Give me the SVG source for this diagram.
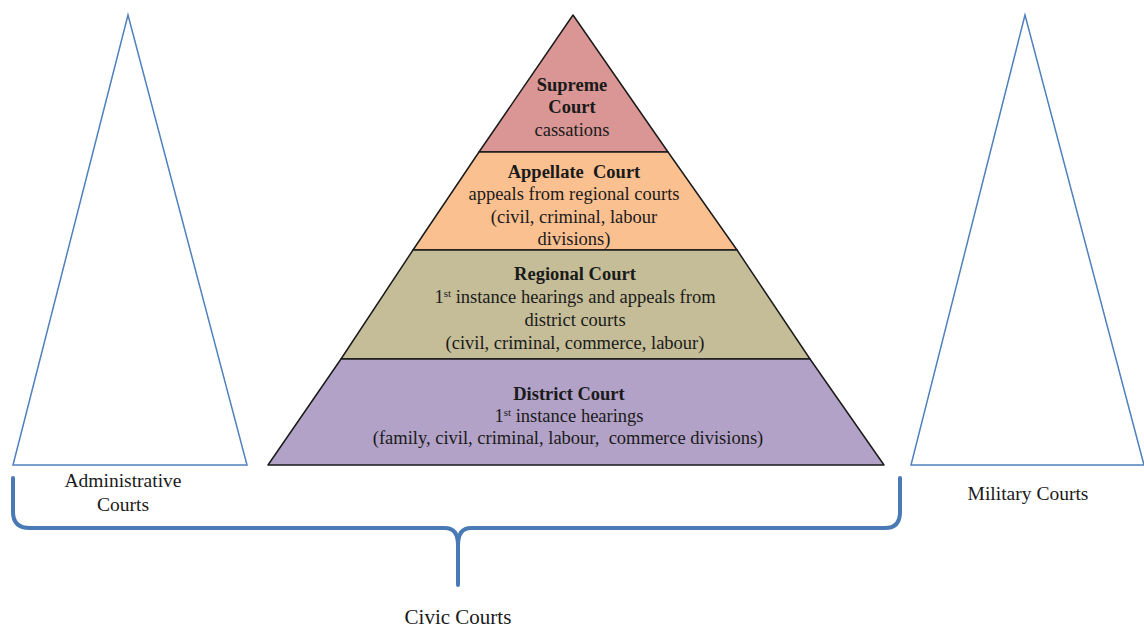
<svg xmlns="http://www.w3.org/2000/svg" width="1144" height="629" viewBox="0 0 1144 629">
<style>
.t{font-family:"Liberation Serif","Times New Roman",serif;font-size:18.5px;fill:#1a1a1a;text-anchor:middle}
.b{font-weight:bold}
.s{font-size:19.5px}
.sup{font-size:11px}
.lvl{stroke:#1a1a1a;stroke-width:1.5;stroke-linejoin:round}
.side{fill:#fff;stroke:#4f81bd;stroke-width:1.5}
.brace{fill:none;stroke:#4a7ab5;stroke-width:4;stroke-linecap:round;stroke-linejoin:round}
</style>
<rect width="1144" height="629" fill="#fff"/>
<g id="administrative">
<polygon class="side" points="128,15 13,465 247,465"/>
<text class="t s" x="123" y="487">Administrative</text>
<text class="t s" x="123" y="511">Courts</text>
</g>
<g id="military">
<polygon class="side" points="1025,15 911,465 1144,465"/>
<text class="t s" x="1028" y="500">Military Courts</text>
</g>
<g id="supreme">
<polygon class="lvl" fill="#d99694" points="573,15 479,152 668,152"/>
<text class="t b" x="572" y="91">Supreme</text>
<text class="t b" x="572" y="113">Court</text>
<text class="t" x="572" y="136">cassations</text>
</g>
<g id="appellate">
<polygon class="lvl" fill="#fac090" points="479,152 668,152 737,250 413,250"/>
<text class="t b" x="574" y="178">Appellate&#160; Court</text>
<text class="t" x="574" y="200">appeals from regional courts</text>
<text class="t" x="574" y="223">(civil, criminal, labour</text>
<text class="t" x="574" y="245">divisions)</text>
</g>
<g id="regional">
<polygon class="lvl" fill="#c4bd97" points="413,250 737,250 810,359 341,359"/>
<text class="t b" x="575" y="280">Regional Court</text>
<text class="t" x="575" y="303">1<tspan class="sup" dy="-6">st</tspan><tspan dy="6"> instance hearings and appeals from</tspan></text>
<text class="t" x="575" y="326">district courts</text>
<text class="t" x="575" y="349">(civil, criminal, commerce, labour)</text>
</g>
<g id="district">
<polygon class="lvl" fill="#b3a2c7" points="341,359 810,359 884,465 268,465"/>
<text class="t b" x="569" y="400">District Court</text>
<text class="t" x="569" y="422">1<tspan class="sup" dy="-6">st</tspan><tspan dy="6"> instance hearings</tspan></text>
<text class="t" x="568" y="444">(family, civil, criminal, labour,&#160; commerce divisions)</text>
</g>
<g id="connectors">
<path class="brace" d="M13,478 L13,512 Q13,528 30,528 L445,528 Q458,528 458,545 L458,585 M458,585 L458,545 Q458,528 471,528 L885,528 Q900,528 900,512 L900,478"/>
</g>
<g id="civic">
<text class="t" x="458" y="624" style="font-size:21px">Civic Courts</text>
</g>
</svg>
